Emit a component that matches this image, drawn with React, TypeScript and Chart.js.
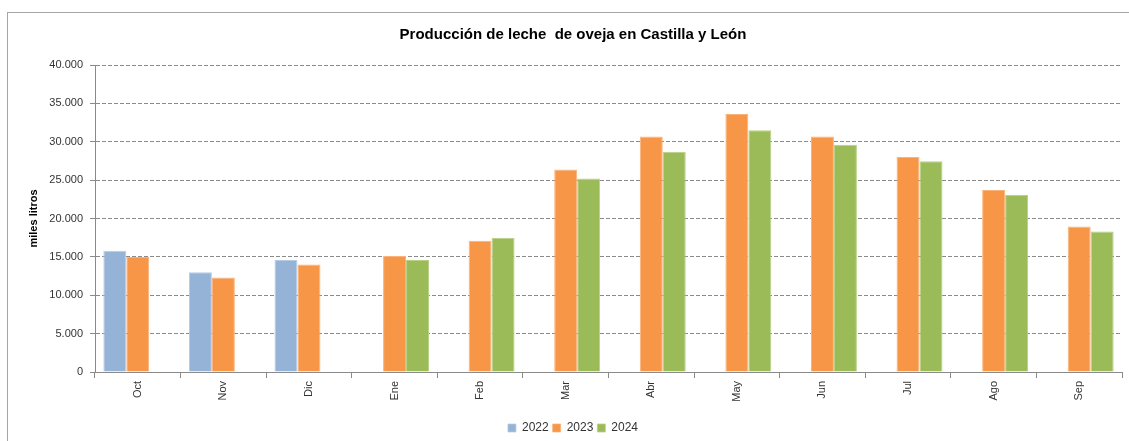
import React, { useEffect, useRef } from "react";
import { Chart, registerables } from "chart.js";

Chart.register(...registerables);

const categories = ["Oct", "Nov", "Dic", "Ene", "Feb", "Mar", "Abr", "May", "Jun", "Jul", "Ago", "Sep"];
const values2022 = [15800, 13000, 14600, null, null, null, null, null, null, null, null, null];
const values2023 = [15000, 12300, 14000, 15100, 17100, 26400, 30700, 33600, 30700, 28000, 23700, 18950];
const values2024 = [null, null, null, 14600, 17500, 25200, 28700, 31500, 29600, 27450, 23100, 18300];
const seriesLabels = ["2022", "2023", "2024"];
const yMin = 0;
const yMax = 40000;
const yStep = 5000;

const titleText = "Producción de leche  de oveja en Castilla y León";
const yTitle = "miles litros";

const FONT = "'Liberation Sans', 'Open Sans', sans-serif";

function fmt(v: number): string {
  const s = Math.round(v).toString();
  return s.replace(/\B(?=(\d{3})+(?!\d))/g, ".");
}

export default function App() {
  const ref = useRef<HTMLCanvasElement | null>(null);

  useEffect(() => {
    if (!ref.current) return;
    const grid = "#8a8a8a";
    const chart = new Chart(ref.current, {
      type: "bar",
      data: {
        labels: categories,
        datasets: [
          { label: seriesLabels[0], data: values2022, backgroundColor: "#95B3D7", borderColor: "#b5cbe5", borderWidth: { top: 1, left: 1, right: 1, bottom: 0 } as any, categoryPercentage: 0.805, barPercentage: 1 },
          { label: seriesLabels[1], data: values2023, backgroundColor: "#F79646", borderColor: "#f9b27a", borderWidth: { top: 1, left: 1, right: 1, bottom: 0 } as any, categoryPercentage: 0.805, barPercentage: 1 },
          { label: seriesLabels[2], data: values2024, backgroundColor: "#9BBB59", borderColor: "#b7d085", borderWidth: { top: 1, left: 1, right: 1, bottom: 0 } as any, categoryPercentage: 0.805, barPercentage: 1 },
        ],
      },
      options: {
        responsive: false,
        animation: false,
        devicePixelRatio: 1,
        layout: { padding: { left: 24, right: 7, top: 12, bottom: -3 } },
        plugins: {
          title: {
            display: true,
            text: titleText,
            color: "#000",
            font: { family: FONT, size: 15, weight: "bold" },
            padding: { top: 14, bottom: 21 },
          },
          legend: {
            position: "bottom",
            labels: {
              boxWidth: 8,
              boxHeight: 8,
              color: "#333",
              font: { family: FONT, size: 12 },
              padding: 4,
            },
          },
          tooltip: { enabled: false },
        },
        scales: {
          x: {
            grid: { offset: true, drawOnChartArea: false, tickLength: 6, color: grid },
            border: { color: grid, width: 1 },
            ticks: { minRotation: 90, maxRotation: 90, color: "#333", font: { family: FONT, size: 11 }, padding: 3 },
            afterFit: (s: any) => {
              s.height = 46;
            },
          },
          y: {
            min: yMin,
            max: yMax,
            ticks: { stepSize: yStep, color: "#333", font: { family: FONT, size: 11 }, padding: 7, callback: (v: any) => fmt(Number(v)) },
            grid: { color: grid, tickLength: 5, lineWidth: 1 },
            border: { color: grid, width: 1, dash: [4, 2] },
            title: { display: true, text: yTitle, color: "#000", font: { family: FONT, size: 11, weight: "bold" }, padding: { top: 3, bottom: 0 } },
            afterFit: (s: any) => {
              s.width = 71;
            },
          },
        },
      },
    });
    return () => chart.destroy();
  }, []);

  return (
    <div style={{ position: "absolute", left: 0, top: 0, width: 1129, height: 441, overflow: "hidden", background: "#fff" }}>
      <div style={{ position: "absolute", left: 7, top: 12, width: 1200, height: 500, border: "1px solid #a6a6a6" }} />
      <canvas ref={ref} width={1129} height={441} style={{ position: "absolute", left: 0, top: 0, width: 1129, height: 441 }} />
    </div>
  );
}
